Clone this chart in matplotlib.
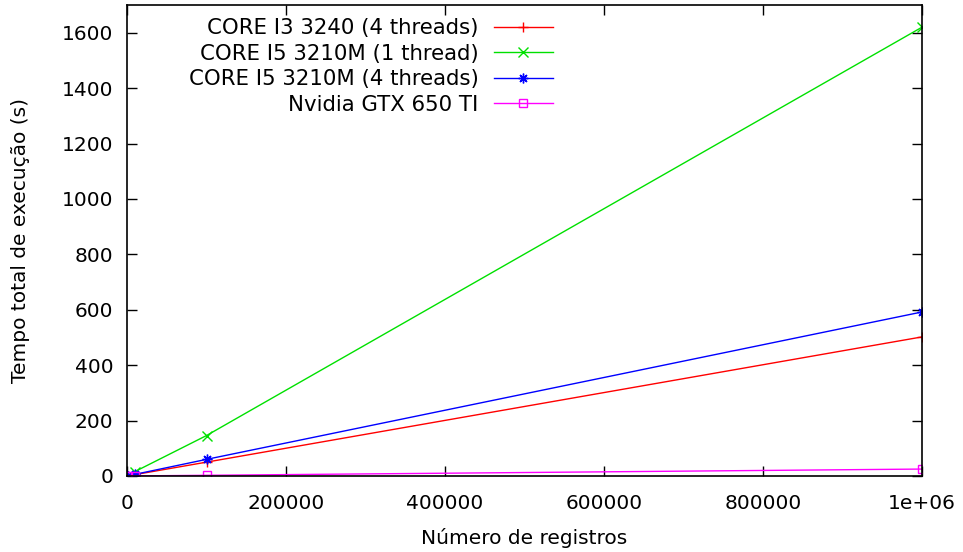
import matplotlib
matplotlib.use('Agg')
import matplotlib.pyplot as plt
from matplotlib.ticker import FuncFormatter

# dados
registros = [1000, 10000, 100000, 1000000]
i3_4t = [0.5, 5, 50, 502]
i5_1t = [1.6, 16, 146, 1620]
i5_4t = [0.6, 6, 60, 592]
gtx650 = [0.03, 0.3, 2.5, 25]

labels = ['CORE I3 3240 (4 threads)', 'CORE I5 3210M (1 thread)',
          'CORE I5 3210M (4 threads)', 'Nvidia GTX 650 TI']
colors = ['#ff0000', '#00e000', '#0000ff', '#ff00ff']
markers = ['+', 'x', (8, 2, 0), 's']
series = [i3_4t, i5_1t, i5_4t, gtx650]

plt.rcParams['font.family'] = 'DejaVu Sans'
plt.rcParams['font.size'] = 14.5

fig = plt.figure(figsize=(9.63, 5.52), dpi=100)
ax = fig.add_axes([0.1319, 0.1377, 0.8255, 0.8532])

for i in range(len(series)):
    ms = 6 if markers[i] == 's' else 7
    ax.plot(registros, series[i], color=colors[i], lw=1, marker=markers[i],
            markersize=ms, markerfacecolor='none', markeredgecolor=colors[i],
            markeredgewidth=1, label=labels[i])

ax.set_xlim(0, 1000000)
ax.set_ylim(0, 1700)
ax.set_xticks([0, 200000, 400000, 600000, 800000, 1000000])
ax.set_yticks(range(0, 1700, 200))


def fmt_x(v, pos):
    if v >= 1000000:
        return '1e+06'
    return '%d' % v


ax.xaxis.set_major_formatter(FuncFormatter(fmt_x))
ax.tick_params(direction='in', top=True, right=True, length=7, width=1,
               labelsize=14.5)
ax.tick_params(axis='x', pad=13)
ax.tick_params(axis='y', pad=10)
for s in ax.spines.values():
    s.set_linewidth(1.2)

ax.set_xlabel('Número de registros', fontsize=14.5, labelpad=11)
ax.set_ylabel('Tempo total de execução (s)', fontsize=14.5, labelpad=23)

ax.legend(loc='upper right', bbox_to_anchor=(553 / 963, 0.967),
          bbox_transform=fig.transFigure, frameon=False, borderpad=0,
          borderaxespad=0, markerfirst=False, handlelength=2.8,
          labelspacing=0.26, fontsize=15.3, numpoints=1, handletextpad=0.7)

fig.savefig('out.png', dpi=100)
